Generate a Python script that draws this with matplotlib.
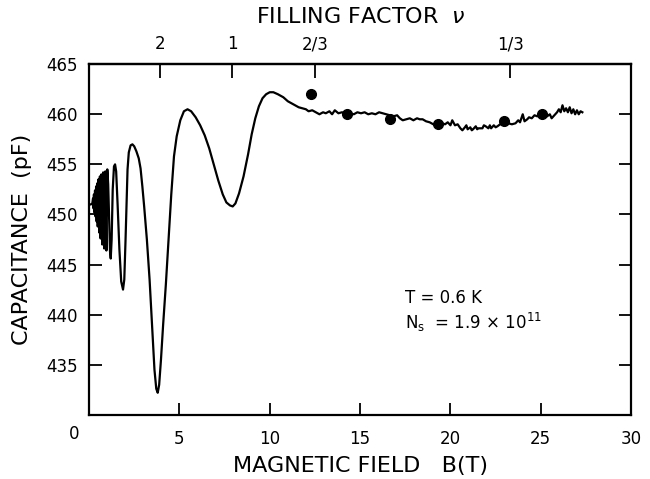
import numpy as np
import matplotlib
matplotlib.use("Agg")
from matplotlib import pyplot as plt

plt.rcParams['font.family'] = ['DejaVu Sans']

# capacitance trace (B in tesla, C in pF)
field = [
    0.00, 0.10, 0.18, 0.22, 0.25, 0.27, 0.30, 0.33, 0.36, 0.39, 0.42, 0.45,
    0.48, 0.52, 0.56, 0.60, 0.64, 0.68, 0.73, 0.78, 0.84, 0.90, 0.96, 1.01,
    1.06, 1.11, 1.16, 1.20, 1.25, 1.31, 1.38, 1.44, 1.50, 1.58, 1.68, 1.78,
    1.88, 1.95, 2.02, 2.08, 2.13, 2.20, 2.30, 2.40, 2.50, 2.62, 2.75, 2.85,
    2.95, 3.05, 3.20, 3.35, 3.50, 3.62, 3.72, 3.80, 3.88, 3.98, 4.10, 4.25,
    4.40, 4.55, 4.70, 4.85, 5.05, 5.25, 5.45, 5.65, 5.90, 6.15, 6.40, 6.65,
    6.90, 7.15, 7.40, 7.60, 7.80, 7.95, 8.10, 8.30, 8.55, 8.80, 9.00, 9.20,
    9.40, 9.60, 9.80, 10.00, 10.20, 10.45, 10.75, 11.00, 11.30, 11.60, 11.80,
    12.00, 12.15, 12.35, 12.55, 12.75, 12.95, 13.10, 13.30, 13.45, 13.60,
    13.80, 14.00, 14.25, 14.45, 14.65, 14.85, 15.05, 15.25, 15.45, 15.65,
    15.85, 16.05, 16.25, 16.45, 16.65, 16.85, 17.05, 17.20, 17.36, 17.55,
    17.75, 17.95, 18.15, 18.30, 18.46, 18.65, 18.85, 19.05, 19.20, 19.38,
    19.55, 19.70, 19.85, 20.00, 20.10, 20.25, 20.40, 20.55, 20.66, 20.80,
    20.88, 20.95, 21.10, 21.18, 21.25, 21.40, 21.48, 21.55, 21.77, 21.85,
    21.95, 22.10, 22.18, 22.25, 22.40, 22.50, 22.60, 22.75, 22.87, 23.05,
    23.20, 23.40, 23.60, 23.75, 23.85, 24.00, 24.10, 24.25, 24.35, 24.50,
    24.65, 24.80, 24.95, 25.07, 25.20, 25.35, 25.50, 25.60, 25.75, 25.90,
    26.00, 26.10, 26.20, 26.30, 26.40, 26.50, 26.60, 26.70, 26.80, 26.90,
    27.00, 27.10, 27.20, 27.30,
]
capacitance = [
    451.0, 451.0, 451.1, 451.6, 450.6, 452.0, 450.2, 452.4, 449.8, 452.8, 449.3, 453.1,
    448.8, 453.5, 448.2, 453.8, 447.6, 454.0, 447.0, 454.2, 446.6, 454.3, 446.4, 454.5,
    453.0, 449.5, 446.3, 445.6, 447.5, 452.5, 454.8, 455.0, 454.3, 451.0, 446.5, 443.3,
    442.5, 443.5, 447.5, 451.5, 454.5, 456.2, 456.9, 457.0, 456.8, 456.3, 455.6, 454.6,
    452.8, 450.8, 447.5, 443.5, 438.5, 434.5, 432.6, 432.2, 433.0, 435.5, 439.0, 443.0,
    447.5, 452.0, 455.8, 457.8, 459.4, 460.3, 460.5, 460.3, 459.7, 458.9, 457.9, 456.6,
    455.0, 453.4, 452.0, 451.2, 450.9, 450.8, 451.1, 452.1, 453.8, 456.0, 458.0, 459.6,
    460.8, 461.6, 462.0, 462.2, 462.2, 462.0, 461.7, 461.3, 461.0, 460.7, 460.6,
    460.5, 460.3, 460.4, 460.2, 460.0, 460.2, 460.1, 460.3, 460.0, 460.4,
    460.1, 460.2, 460.0, 460.1, 460.0, 460.2, 460.1, 460.2, 460.0, 460.1,
    460.0, 460.2, 460.1, 460.0, 459.9, 459.8, 459.9, 459.6, 459.4, 459.5,
    459.6, 459.4, 459.6, 459.5, 459.5, 459.3, 459.2, 459.0, 459.1, 458.9,
    459.1, 459.0, 459.2, 458.9, 459.4, 458.9, 459.0, 458.6, 458.4, 458.7,
    458.9, 458.5, 458.7, 458.4, 458.5, 458.8, 458.5, 458.6, 458.6, 458.9,
    458.8, 458.6, 458.9, 458.6, 458.9, 458.7, 458.8, 459.0, 459.1, 458.9,
    459.1, 459.0, 459.1, 459.4, 459.2, 460.0, 459.3, 459.5, 459.7, 459.6,
    459.9, 459.8, 460.0, 460.1, 460.0, 459.8, 460.0, 459.6, 459.9, 460.2,
    460.5, 460.2, 460.9, 460.3, 460.6, 460.2, 460.7, 460.1, 460.5, 460.0,
    460.4, 460.0, 460.3, 460.2,
]

# calculated points (dots)
dot_field = [12.3, 14.25, 16.66, 19.33, 22.96, 25.04]
dot_cap = [462.0, 460.0, 459.5, 459.0, 459.3, 460.0]

# filling factor positions on the top axis
nu_field = [3.95, 7.92, 12.5, 23.3]
nu_labels = ['2', '1', '2/3', '1/3']

x_ticks = [5, 10, 15, 20, 25, 30]
y_ticks = [435, 440, 445, 450, 455, 460, 465]

fig = plt.figure(figsize=(6.5, 4.79), dpi=100)
ax = fig.add_axes([0.137, 0.134, 0.834, 0.732])

ax.plot(field, capacitance, color='black', lw=1.6, solid_joinstyle='round')
ax.plot(dot_field, dot_cap, 'o', color='black', ms=7)

ax.set_xlim(0, 30)
ax.set_ylim(430, 465)

ax.set_xticks(x_ticks)
ax.set_xticklabels([str(t) for t in x_ticks])
ax.text(-0.8, 428.1, '0', ha='center', va='center', fontsize=12)
ax.set_yticks(y_ticks)
ax.set_yticklabels([str(t) for t in y_ticks])
ax.tick_params(direction='in', length=9, width=1.3, labelsize=12,
               right=True, top=False)
ax.tick_params(axis='x', pad=11)
ax.tick_params(axis='y', pad=8)

top = ax.secondary_xaxis('top')
top.set_xticks(nu_field)
top.set_xticklabels(nu_labels)
top.tick_params(direction='in', length=10, width=1.3, labelsize=12, pad=8)

for a in (ax, top):
    for s in a.spines.values():
        s.set_linewidth(1.6)

ax.set_xlabel('MAGNETIC FIELD   B(T)', fontsize=16, labelpad=6)
ax.set_ylabel('CAPACITANCE  (pF)', fontsize=16, labelpad=10)
fig.text(0.555, 0.965, r'FILLING FACTOR  $\nu$', ha='center', va='center',
         fontsize=16)

ax.text(17.5, 441.7, 'T = 0.6 K', fontsize=12, va='center')
ax.text(17.5, 439.2, r'N$_\mathregular{s}$  = 1.9 × 10$^\mathregular{11}$',
        fontsize=12, va='center')

fig.savefig('out.png', dpi=100)
